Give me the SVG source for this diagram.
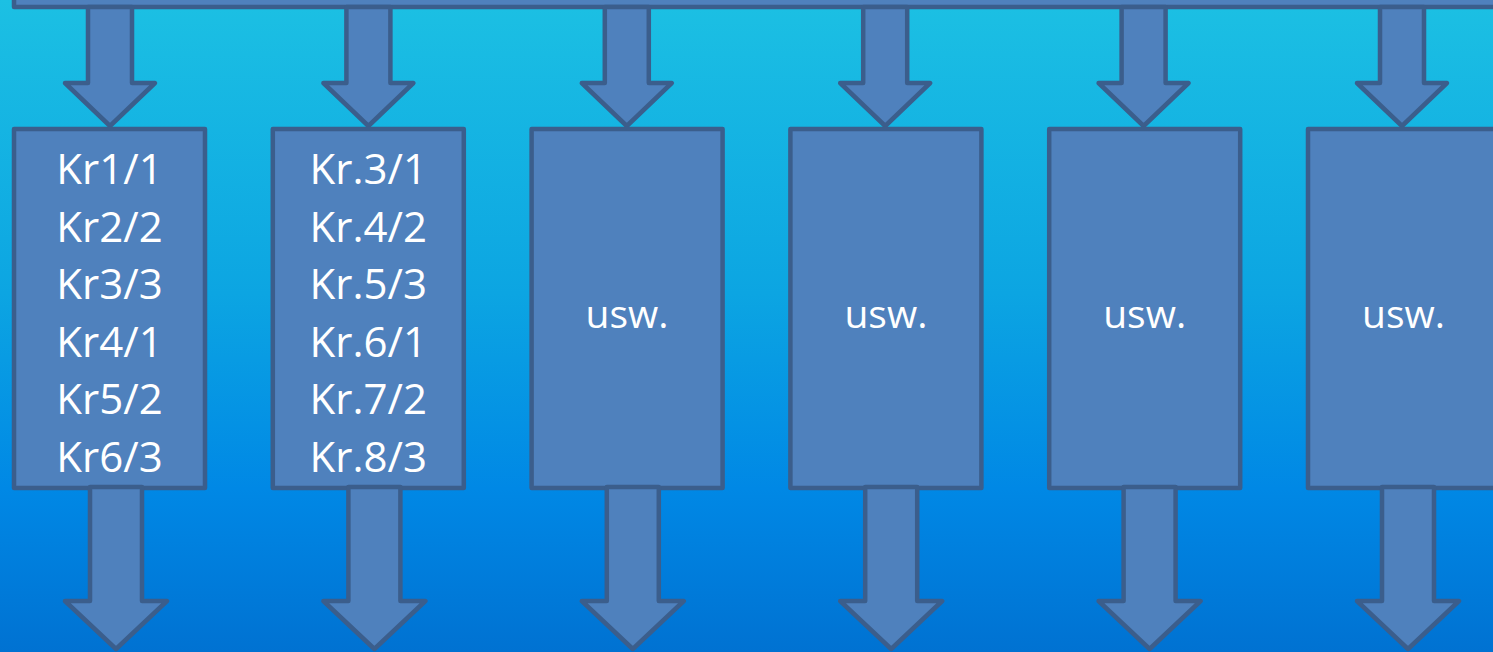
<svg xmlns="http://www.w3.org/2000/svg" width="1493" height="652" viewBox="0 0 1493 652">
<defs>
<linearGradient id="bg" x1="0" y1="0" x2="0" y2="1">
<stop offset="0" stop-color="#1CC0E3"/>
<stop offset="0.45" stop-color="#0CA5E2"/>
<stop offset="0.75" stop-color="#0088E5"/>
<stop offset="1" stop-color="#0072D2"/>
</linearGradient>
<style>
.shape{fill:#4F81BD;stroke:#3B5E8C;stroke-width:4.5;stroke-linejoin:round}
.t{font-family:"Open Sans","Noto Sans",sans-serif;font-size:42px;fill:#FFFFFF;text-anchor:middle}
.u{font-size:39px}
</style>
</defs>
<rect x="0" y="0" width="1493" height="652" fill="url(#bg)"/>
<g id="topbar"><rect class="shape" x="14" y="-20" width="1500" height="27"/></g>
<g id="connectors">
<path class="shape" d="M88,7V83H65L110,126L155,83H132V7Z"/>
<path class="shape" d="M346.4,7V83H323.4L368.4,126L413.4,83H390.4V7Z"/>
<path class="shape" d="M604.8,7V83H581.8L626.8,126L671.8,83H648.8V7Z"/>
<path class="shape" d="M863.2,7V83H840.2L885.2,126L930.2,83H907.2V7Z"/>
<path class="shape" d="M1121.6,7V83H1098.6L1143.6,126L1188.6,83H1165.6V7Z"/>
<path class="shape" d="M1380,7V83H1357L1402,126L1447,83H1424V7Z"/>
</g>
<g id="box1"><rect class="shape" x="14" y="129" width="191" height="359"/>
<text class="t" x="109.5" y="184">Kr1/1</text>
<text class="t" x="109.5" y="241.5">Kr2/2</text>
<text class="t" x="109.5" y="299">Kr3/3</text>
<text class="t" x="109.5" y="356.5">Kr4/1</text>
<text class="t" x="109.5" y="414">Kr5/2</text>
<text class="t" x="109.5" y="471.5">Kr6/3</text></g>
<g id="box2"><rect class="shape" x="272.8" y="129" width="191" height="359"/>
<text class="t" x="368.3" y="184">Kr.3/1</text>
<text class="t" x="368.3" y="241.5">Kr.4/2</text>
<text class="t" x="368.3" y="299">Kr.5/3</text>
<text class="t" x="368.3" y="356.5">Kr.6/1</text>
<text class="t" x="368.3" y="414">Kr.7/2</text>
<text class="t" x="368.3" y="471.5">Kr.8/3</text></g>
<g id="box3"><rect class="shape" x="531.6" y="129" width="191" height="359"/>
<text class="t u" x="627.1" y="328">usw.</text></g>
<g id="box4"><rect class="shape" x="790.4" y="129" width="191" height="359"/>
<text class="t u" x="885.9" y="328">usw.</text></g>
<g id="box5"><rect class="shape" x="1049.2" y="129" width="191" height="359"/>
<text class="t u" x="1144.7" y="328">usw.</text></g>
<g id="box6"><rect class="shape" x="1308" y="129" width="191" height="359"/>
<text class="t u" x="1403.5" y="328">usw.</text></g>
<g id="connectors-out">
<path class="shape" d="M90,487V601H65L116,649L167,601H142V487Z"/>
<path class="shape" d="M348.4,487V601H323.4L374.4,649L425.4,601H400.4V487Z"/>
<path class="shape" d="M606.8,487V601H581.8L632.8,649L683.8,601H658.8V487Z"/>
<path class="shape" d="M865.2,487V601H840.2L891.2,649L942.2,601H917.2V487Z"/>
<path class="shape" d="M1123.6,487V601H1098.6L1149.6,649L1200.6,601H1175.6V487Z"/>
<path class="shape" d="M1382,487V601H1357L1408,649L1459,601H1434V487Z"/>
</g>
</svg>
